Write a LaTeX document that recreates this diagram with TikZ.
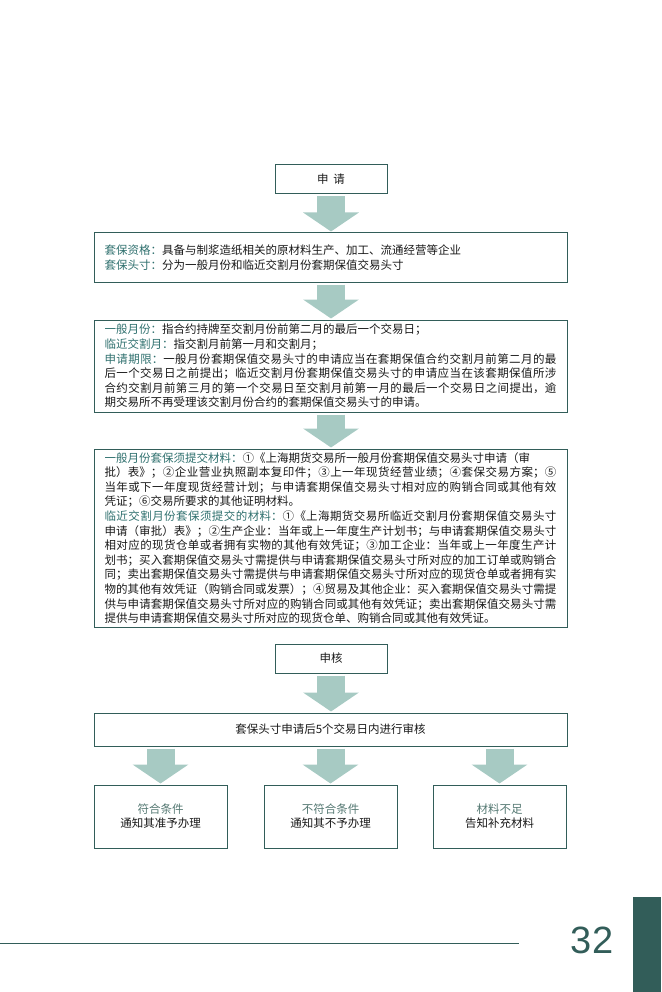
\documentclass[tikz,border=0pt]{standalone}
\usepackage{fontspec}
\setmainfont{Noto Sans CJK SC}
\newfontfamily\pagenum{Liberation Sans}
\usetikzlibrary{arrows.meta}
\XeTeXlinebreaklocale "zh"
\XeTeXlinebreakskip=0pt plus 1pt
\definecolor{deepteal}{RGB}{50,93,89}
\definecolor{paleteal}{RGB}{167,202,195}
\definecolor{labteal}{RGB}{47,112,110}
\definecolor{greyteal}{RGB}{84,120,114}
\newcommand{\lab}[1]{{\color{labteal}#1}}

\begin{document}
\begin{tikzpicture}[x=1pt, y=-1pt,
    box/.style={draw=deepteal, line width=1pt, inner sep=0pt, text=black!90,
      font=\fontsize{11.5}{14.6}\selectfont},
    txtbox/.style={box, minimum width=473pt, text width=452pt, align=justify},
    blk/.style={draw=paleteal, line width=28pt, -{Triangle[width=55pt,length=19pt]},
      shorten <=2pt, shorten >=1pt}]
\useasboundingbox (0,0) rectangle (661,992);

\node[box, minimum width=112pt, minimum height=29pt] (apply) at (331,179.5) {申\hspace{5pt}请};

\node[txtbox, minimum height=49pt] (qual) at (330.5,257.5)
  {\lab{套保资格：}具备与制浆造纸相关的原材料生产、加工、流通经营等企业\\
   \lab{套保头寸：}分为一般月份和临近交割月份套期保值交易头寸};

\node[txtbox, minimum height=92pt] (term) at (330.5,366)
  {\lab{一般月份：}指合约持牌至交割月份前第二月的最后一个交易日；\\
   \lab{临近交割月：}指交割月前第一月和交割月；\\
   \lab{申请期限：}一般月份套期保值交易头寸的申请应当在套期保值合约交割月前第二月的最\linebreak
   后一个交易日之前提出；临近交割月份套期保值交易头寸的申请应当在该套期保值所涉\linebreak
   合约交割月前第三月的第一个交易日至交割月前第一月的最后一个交易日之间提出，逾\linebreak
   期交易所不再受理该交割月份合约的套期保值交易头寸的申请。};

\node[txtbox, minimum height=178pt] (docs) at (330.5,538)
  {\lab{一般月份套保须提交材料：}①《上海期货交易所一般月份套期保值交易头寸申请（审\\
   批）表》；②企业营业执照副本复印件；③上一年现货经营业绩；④套保交易方案；⑤\linebreak
   当年或下一年度现货经营计划；与申请套期保值交易头寸相对应的购销合同或其他有效\linebreak
   凭证；⑥交易所要求的其他证明材料。\\
   \lab{临近交割月份套保须提交的材料：}①《上海期货交易所临近交割月份套期保值交易头寸\linebreak
   申请（审批）表》；②生产企业：当年或上一年度生产计划书；与申请套期保值交易头寸\linebreak
   相对应的现货仓单或者拥有实物的其他有效凭证；③加工企业：当年或上一年度生产计\linebreak
   划书；买入套期保值交易头寸需提供与申请套期保值交易头寸所对应的加工订单或购销合\linebreak
   同；卖出套期保值交易头寸需提供与申请套期保值交易头寸所对应的现货仓单或者拥有实\linebreak
   物的其他有效凭证（购销合同或发票）；④贸易及其他企业：买入套期保值交易头寸需提\linebreak
   供与申请套期保值交易头寸所对应的购销合同或其他有效凭证；卖出套期保值交易头寸需\linebreak
   提供与申请套期保值交易头寸所对应的现货仓单、购销合同或其他有效凭证。};

\node[box, minimum width=112pt, minimum height=29pt] (audit) at (331,658.5) {申核};
\node[box, minimum width=473pt, minimum height=33pt] (review) at (330.5,729.5)
  {套保头寸申请后5个交易日内进行审核};

\draw[blk] (apply.south) -- (apply.south |- qual.north);
\draw[blk] (apply.south |- qual.south) -- (apply.south |- term.north);
\draw[blk] (apply.south |- term.south) -- (apply.south |- docs.north);
\draw[blk] (audit.south) -- (audit.south |- review.north);

\foreach \n/\x/\a/\b in {ok/160.5/符合条件/通知其准予办理, no/330.5/不符合条件/通知其不予办理,
    lack/499.5/材料不足/告知补充材料}
{
    \node[box, minimum width=133pt, minimum height=63pt, align=center,
      font=\fontsize{11.5}{14}\selectfont] (\n) at (\x,816.5) {{\color{greyteal}\a}\\\b};
    \draw[blk] (\n.north |- review.south) -- (\n.north);
}

\draw[deepteal, line width=1pt] (0,943) -- (519,943);
\fill[deepteal] (633,897) rectangle (661,992);
\node[text=deepteal, inner sep=0pt, font=\pagenum\fontsize{38}{38}\selectfont] (page) at (592,940.5) {32};
\end{tikzpicture}
\end{document}
